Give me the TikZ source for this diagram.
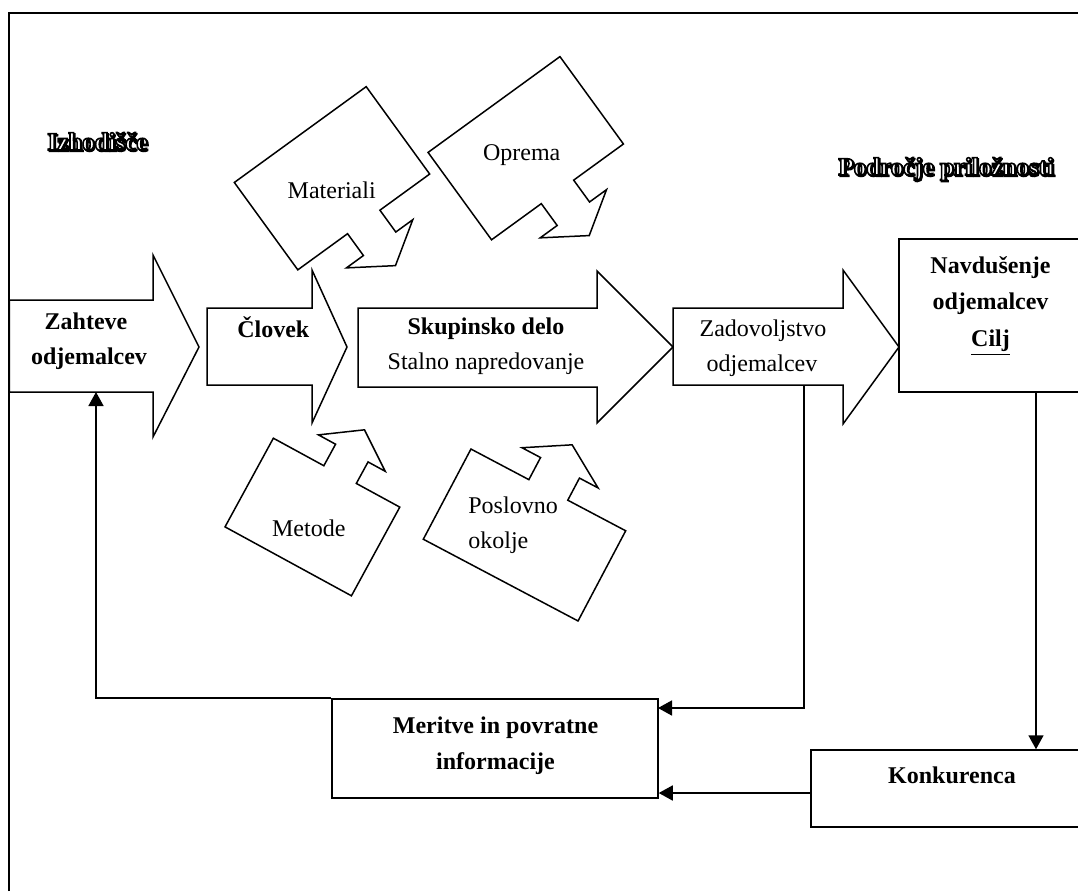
\documentclass[tikz,border=0pt]{standalone}
\usepackage{fontspec}
\setmainfont{Liberation Serif}
\usetikzlibrary{arrows.meta,calc}

\tikzset{
  outline/.style={draw=black, line width=0.75pt, line join=miter, miter limit=10, fill=white},
  frameline/.style={draw=black, line width=1pt},
  link/.style={draw=black, line width=0.8pt},
  linkarrow/.style={link, -{Triangle[length=7pt,width=7.5pt]}},
  txt/.style={inner sep=0pt, anchor=base, font=\fontsize{12pt}{14pt}\selectfont},
  btxt/.style={txt, font=\fontsize{12pt}{14pt}\selectfont\bfseries},
  wtxt/.style={txt, anchor=base west},
  titletxt/.style={inner sep=0pt, anchor=base west, font=\fontsize{12.5pt}{15pt}\selectfont\bfseries},
  panel/.style={draw=black, line width=0.75pt, fill=white, inner sep=0pt},
}

% right-pointing block arrow:
% #1 left x, #2 shaft top, #3 shaft bottom, #4 head base x,
% #5 head top, #6 head bottom, #7 tip x, #8 tip y
\newcommand\blockarrow[8]{%
  \path[outline] (#1,#2) -- (#4,#2) -- (#4,#5) -- (#7,#8) -- (#4,#6)
    -- (#4,#3) -- (#1,#3) -- cycle;}

% rotated rectangle with an arrow on one long side:
% #1 centre, #2 rotation, #3 half length, #4 half width, #5 arrow offset,
% #6 half stem width, #7 stem length, #8 half head width, #9 tip distance
\newcommand\callout[9]{%
  \begin{scope}[shift={(#1)}, rotate=#2]
    \path[outline] (-#3,-#4) -- (#3,-#4) -- (#3,#4) -- ({#5+#6},#4)
      -- ({#5+#6},{#4+#7}) -- ({#5+#8},{#4+#7}) -- (#5,{#4+#9})
      -- ({#5-#8},{#4+#7}) -- ({#5-#6},{#4+#7}) -- ({#5-#6},#4)
      -- (-#3,#4) -- cycle;
  \end{scope}}

% glyphs stroked in black: white inside (outlined) or solid (shadow)
\newcommand\outlinedglyphs[1]{\special{pdf:literal direct 0 G 1 g 2 Tr 0.8 w}#1\special{pdf:literal direct 0 Tr 0 g 0 G}}
\newcommand\solidglyphs[1]{\special{pdf:literal direct 0 G 0 g 2 Tr 0.8 w}#1\special{pdf:literal direct 0 Tr 0 g 0 G}}

% hollow heading with a drop shadow
\newcommand\hollow[3]{%
  \node[titletxt, text=black] (#1-shadow) at ($(#2)+(0.6pt,-0.6pt)$) {\solidglyphs{#3}};
  \node[titletxt, text=black] (#1) at (#2) {\outlinedglyphs{#3}};}

\begin{document}
\begin{tikzpicture}[x=0.5pt, y=-0.5pt]
  \useasboundingbox (0,0) rectangle (1078,891);
  \fill[white] (0,0) rectangle (1078,891);
  \clip (0,0) rectangle (1078,891);

  % frame
  \draw[frameline] (9.3,891) -- (9.3,12.5) -- (1078,12.5);

  % headings
  \hollow{izh}{47,150}{Izhodišče}
  \hollow{podr}{838,175}{Področje priložnosti}

  % main chain of block arrows
  \blockarrow{9.3}{300}{392}{153}{255}{437}{199}{347}
  \blockarrow{207}{308}{385}{312}{270}{423}{347}{347}
  \blockarrow{358}{308}{387}{597}{271}{423}{673}{347}
  \blockarrow{673}{308}{385}{843}{270}{424}{899}{347}

  % influencing factors
  \callout{332,178.25}{36}{81.5}{54}{0}{20}{27}{41}{54}
  \callout{525.75,148.2}{36}{81.5}{54}{0}{20}{27}{41}{54}
  \callout{312.4,517}{151.4}{72}{50.5}{-4}{18.5}{24.5}{38}{51}
  \callout{524.5,535}{152.15}{87.5}{51}{0}{22}{25}{43}{51}

  % boxes
  \node[panel, minimum width=91.5pt, minimum height=76.5pt] (nav) at (990.5,315.5) {};
  \node[panel, minimum width=141pt, minimum height=38.5pt] (konk) at (952,788.5) {};
  \node[panel, minimum width=163pt, minimum height=49.5pt] (meas) at (495,748.5) {};

  % labels
  \node[btxt] (zah1) at (86,329.3) {Zahteve};
  \node[btxt] (zah2) at (89,364) {odjemalcev};
  \node[btxt] (clo) at (273.3,337.3) {Človek};
  \node[btxt] (sku1) at (486,334.5) {Skupinsko delo};
  \node[txt] (sku2) at (486,369) {Stalno napredovanje};
  \node[txt] (zad1) at (763,336.7) {Zadovoljstvo};
  \node[txt] (zad2) at (762,371.7) {odjemalcev};
  \node[btxt] (nav1) at (990.5,273.3) {Navdušenje};
  \node[btxt] (nav2) at (990.5,309.3) {odjemalcev};
  \node[btxt] (nav3) at (990.5,346) {\underline{Cilj}};
  \node[btxt] (mer1) at (495.5,733.3) {Meritve in povratne};
  \node[btxt] (mer2) at (495.5,769.3) {informacije};
  \node[btxt] (kon) at (952,783.3) {Konkurenca};
  \node[txt] (mat) at (331.7,198.3) {Materiali};
  \node[txt] (opr) at (521.7,160.7) {Oprema};
  \node[txt] (met) at (308.8,536.7) {Metode};
  \node[wtxt] (pos1) at (468,513.3) {Poslovno};
  \node[wtxt] (pos2) at (468,548.3) {okolje};

  % feedback connectors
  \coordinate (nout) at (1036,392);
  \coordinate (kout) at (811,793);
  \coordinate (zout) at (804,385);
  \coordinate (min) at (658,708);
  \coordinate (zin) at (96,392);
  \draw[linkarrow] (nout) -- (nout |- konk.north);
  \draw[linkarrow] (kout) -- (kout -| meas.east);
  \draw[linkarrow] (zout) |- (min);
  \draw[linkarrow] (meas.north west) -| (zin);
\end{tikzpicture}
\end{document}
